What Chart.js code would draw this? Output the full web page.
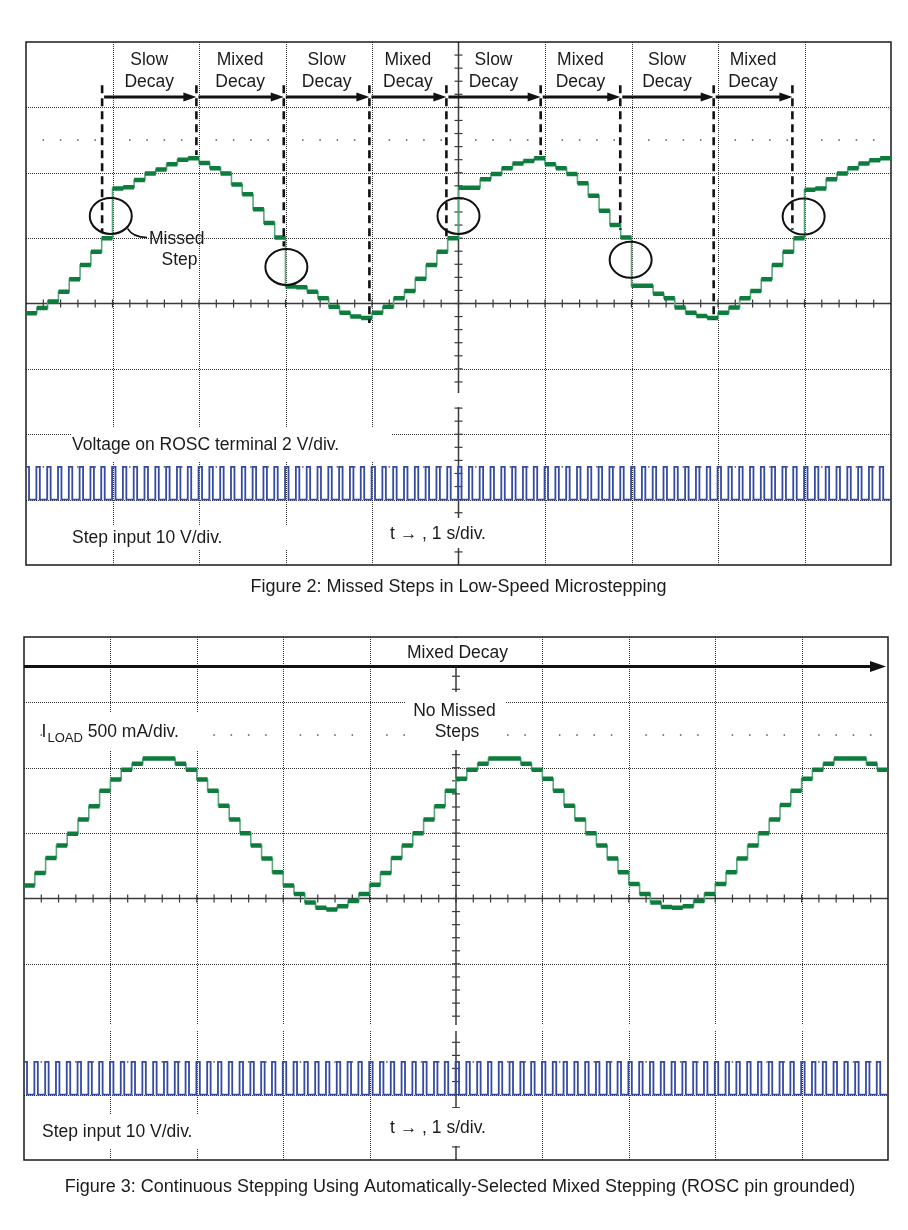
<!DOCTYPE html>
<html>
<head>
<meta charset="utf-8">
<script src="https://cdn.jsdelivr.net/npm/chart.js@4.4.1/dist/chart.umd.min.js"></script>
<style>
  html, body { margin: 0; padding: 0; background: #fff; }
  #wrap { position: relative; width: 908px; height: 1230px; }
  canvas { position: absolute; left: 0; }
  #fig2 { top: 0; }
  #fig3 { top: 600px; }
</style>
</head>
<body>
<div id="wrap">
  <canvas id="fig2" width="908" height="600"></canvas>
  <canvas id="fig3" width="908" height="630"></canvas>
</div>
<script>
const stepPeriod = 0.125;   // 8 microsteps per division
const stepHigh = -2.5;      // step input trace, high level
const stepLow = -3.0;       // step input trace, low level
const pulseOffset = -0.005; // pulse rise relative to the current step
const pulseWidth = 0.04;    // high time of a step pulse

// Figure 2: load current, one level per microstep (80 steps over 10 s)
const fig2Current = [
  -0.15, -0.07, 0.03, 0.18, 0.37, 0.59, 0.79, 1.00,
  1.76, 1.78, 1.89, 1.99, 2.05, 2.13, 2.20, 2.22,
  2.15, 2.07, 1.99, 1.82, 1.67, 1.44, 1.23, 1.01,
  0.26, 0.25, 0.18, 0.08, -0.05, -0.14, -0.20, -0.22,
  -0.14, -0.05, 0.08, 0.19, 0.38, 0.59, 0.79, 1.00,
  1.77, 1.77, 1.90, 1.98, 2.07, 2.14, 2.18, 2.22,
  2.13, 2.07, 1.98, 1.84, 1.65, 1.42, 1.20, 1.01,
  0.27, 0.27, 0.15, 0.08, -0.06, -0.14, -0.19, -0.22,
  -0.14, -0.06, 0.08, 0.19, 0.37, 0.59, 0.79, 1.00,
  1.74, 1.76, 1.90, 1.99, 2.07, 2.14, 2.19, 2.22
];

// Figure 3: load current with mixed decay all the time
const fig3Current = [
  0.20, 0.39, 0.62, 0.81, 0.99, 1.21, 1.41, 1.65,
  1.82, 1.97, 2.06, 2.14, 2.14, 2.14, 2.06, 1.97,
  1.82, 1.65, 1.42, 1.21, 1.00, 0.81, 0.61, 0.40,
  0.20, 0.07, -0.06, -0.14, -0.17, -0.12, -0.04, 0.07,
  0.21, 0.39, 0.62, 0.81, 1.00, 1.21, 1.41, 1.65,
  1.83, 1.97, 2.06, 2.14, 2.14, 2.14, 2.06, 1.97,
  1.83, 1.65, 1.42, 1.21, 1.00, 0.81, 0.61, 0.40,
  0.22, 0.07, -0.06, -0.13, -0.14, -0.12, -0.04, 0.07,
  0.22, 0.40, 0.61, 0.81, 1.00, 1.21, 1.43, 1.65,
  1.83, 1.97, 2.06, 2.14, 2.14, 2.14, 2.06, 1.97
];

// Figure 2 annotations: decay mode boundaries (s) and where each dashed line stops (div)
const decayBounds = [0.88, 1.97, 2.98, 3.97, 4.86, 5.95, 6.87, 7.95, 8.86];
const boundEnds = [1.08, 2.27, 0.87, -0.30, 1.02, 2.27, 1.13, -0.25, 1.13];
const decayModes = ['Slow', 'Mixed', 'Slow', 'Mixed', 'Slow', 'Mixed', 'Slow', 'Mixed'];
const missedT = [0.98, 3.01, 5.00, 6.99, 8.99];
const missedY = [1.34, 0.56, 1.34, 0.67, 1.33];

const FONT = '"Liberation Sans", Arial, sans-serif';
const INK = '#1b1b1b';

// thick flat parts of the staircase (noise band)
function flats(levels) {
  const pts = [];
  levels.forEach((v, k) => {
    pts.push({x: k * stepPeriod, y: v}, {x: (k + 1) * stepPeriod, y: v}, {x: (k + 1) * stepPeriod, y: null});
  });
  return pts;
}

// thin stepped trace that also gives the risers
function risers(levels) {
  const pts = levels.map((v, k) => ({x: k * stepPeriod, y: v}));
  pts.push({x: levels.length * stepPeriod, y: levels[levels.length - 1]});
  return pts;
}

// step input pulse train, one pulse per microstep
function pulses(levels) {
  const pts = [];
  levels.forEach((v, k) => {
    const t = k * stepPeriod + pulseOffset;
    pts.push({x: t, y: stepHigh}, {x: t + pulseWidth, y: stepLow});
  });
  pts.push({x: 10, y: stepLow});
  return pts;
}

// index 0 is painted last (on top)
function traceSets(levels) {
  return [
    {data: flats(levels), spanGaps: false, borderColor: '#0e7c3d', borderWidth: 4.5, borderCapStyle: 'butt'},
    {data: risers(levels), stepped: 'before', borderColor: '#5aa97c', borderWidth: 1.6},
    {data: pulses(levels), stepped: 'before', borderColor: '#354ba2', borderWidth: 1.8}
  ];
}

function seg(ctx, x1, y1, x2, y2) {
  ctx.beginPath(); ctx.moveTo(x1, y1); ctx.lineTo(x2, y2); ctx.stroke();
}

// graticule: dotted divisions, solid centre axes with 0.2 div ticks, label masks, frame
function drawScreen(chart, masks, dy) {
  const {ctx, chartArea: a} = chart;
  const sx = chart.scales.x, sy = chart.scales.y;
  ctx.save();
  ctx.strokeStyle = 'rgba(0,0,0,0.8)';
  ctx.lineWidth = 1;
  ctx.setLineDash([1, 1]);
  sx.ticks.forEach(t => {
    if (t.value === 0 || t.value === 10 || t.value === 5) return;
    const px = Math.round(sx.getPixelForValue(t.value)) + 0.5;
    seg(ctx, px, a.top, px, a.bottom);
  });
  sy.ticks.forEach(t => {
    if (t.value === -4 || t.value === 4 || t.value === 0) return;
    const py = Math.round(sy.getPixelForValue(t.value)) + 0.5;
    seg(ctx, a.left, py, a.right, py);
  });
  ctx.setLineDash([]);
  ctx.fillStyle = '#555';
  [2.5, -2.5].forEach(row => {
    const py = sy.getPixelForValue(row);
    for (let i = 1; i < 50; i++) {
      if (i % 5 === 0) continue;
      ctx.fillRect(sx.getPixelForValue(i * 0.2) - 0.75, py - 0.75, 1.5, 1.5);
    }
  });
  const cx = sx.getPixelForValue(5), cy = sy.getPixelForValue(0);
  ctx.strokeStyle = '#3a3a3a';
  ctx.lineWidth = 1.5;
  seg(ctx, a.left, cy, a.right, cy);
  seg(ctx, cx, a.top, cx, a.bottom);
  ctx.lineWidth = 1.2;
  for (let i = 1; i < 50; i++) {
    const px = sx.getPixelForValue(i * 0.2);
    seg(ctx, px, cy - 4, px, cy + 4);
  }
  for (let j = -19; j < 20; j++) {
    const py = sy.getPixelForValue(j * 0.2);
    seg(ctx, cx - 4, py, cx + 4, py);
  }
  ctx.fillStyle = '#fff';
  masks.forEach(m => ctx.fillRect(m[0], m[1] - dy, m[2], m[3]));
  ctx.strokeStyle = '#1a1a1a';
  ctx.lineWidth = 1.5;
  ctx.strokeRect(a.left, a.top, a.right - a.left, a.bottom - a.top);
  ctx.restore();
}

function arrowRight(ctx, x1, x2, y, len, half) {
  ctx.lineWidth = 3;
  seg(ctx, x1, y, x2 - len + 2, y);
  ctx.beginPath();
  ctx.moveTo(x2, y); ctx.lineTo(x2 - len, y - half); ctx.lineTo(x2 - len, y + half);
  ctx.closePath(); ctx.fill();
}

function text(ctx, s, x, y, size, align) {
  ctx.font = size + 'px ' + FONT;
  ctx.textAlign = align || 'left';
  ctx.textBaseline = 'alphabetic';
  ctx.fillText(s, x, y);
}

const fig2Masks = [[72, 428, 320, 34], [450, 393, 16, 14], [70, 525, 232, 25], [385, 518, 125, 30]];

const fig2Plugin = {
  id: 'fig2Screen',
  beforeDatasetsDraw(chart) { drawScreen(chart, fig2Masks, 0); },
  afterDatasetsDraw(chart) {
    const {ctx} = chart;
    const sx = chart.scales.x, sy = chart.scales.y;
    ctx.save();
    ctx.strokeStyle = '#111';
    ctx.fillStyle = '#111';
    const top = sy.getPixelForValue(3.34), ay = sy.getPixelForValue(3.16);
    const bx = decayBounds.map(t => sx.getPixelForValue(t));
    // dashed mode boundaries
    ctx.lineWidth = 2.6;
    ctx.setLineDash([8, 5]);
    bx.forEach((px, i) => seg(ctx, px, top, px, sy.getPixelForValue(boundEnds[i])));
    ctx.setLineDash([]);
    // arrows + labels
    for (let i = 0; i < decayModes.length; i++) {
      ctx.fillStyle = '#111';
      arrowRight(ctx, bx[i] + 2, bx[i + 1], ay, 13, 4.5);
      ctx.fillStyle = INK;
      const mid = (bx[i] + bx[i + 1]) / 2;
      text(ctx, decayModes[i], mid, 64.5, 17.5, 'center');
      text(ctx, 'Decay', mid, 86.5, 17.5, 'center');
    }
    // missed step circles
    ctx.lineWidth = 2;
    missedT.forEach((t, i) => {
      ctx.beginPath();
      ctx.ellipse(sx.getPixelForValue(t), sy.getPixelForValue(missedY[i]), 21, 18, 0, 0, Math.PI * 2);
      ctx.stroke();
    });
    ctx.lineWidth = 1.5;
    ctx.beginPath();
    ctx.moveTo(127.5, 228.5);
    ctx.quadraticCurveTo(133, 237.5, 147, 237.5);
    ctx.stroke();
    ctx.fillStyle = INK;
    text(ctx, 'Missed', 149, 243.5, 17.5);
    text(ctx, 'Step', 161.5, 265, 17.5);
    text(ctx, 'Voltage on ROSC terminal 2 V/div.', 72, 450, 17.5);
    text(ctx, 'Step input 10 V/div.', 72, 543, 17.5);
    text(ctx, 't \u2192 , 1 s/div.', 390, 539, 17.5);
    text(ctx, 'Figure 2: Missed Steps in Low-Speed Microstepping', 458.5, 592, 18, 'center');
    ctx.restore();
  }
};

const fig3Masks = [[400, 638, 115, 27], [405, 692, 100, 58], [44, 712, 165, 38], [24, 1025, 864, 6],
  [40, 1114, 162, 34], [385, 1108, 125, 38]];

const fig3Plugin = {
  id: 'fig3Screen',
  beforeDatasetsDraw(chart) { drawScreen(chart, fig3Masks, 600); },
  afterDatasetsDraw(chart) {
    const {ctx, chartArea: a} = chart;
    const sy = chart.scales.y;
    ctx.save();
    ctx.strokeStyle = '#111';
    ctx.fillStyle = '#111';
    arrowRight(ctx, a.left, a.right - 2, sy.getPixelForValue(3.55), 16, 5.5);
    ctx.fillStyle = INK;
    text(ctx, 'Mixed Decay', 457.5, 58, 17.5, 'center');
    text(ctx, 'No Missed', 454.5, 116, 17.5, 'center');
    text(ctx, 'Steps', 457, 137, 17.5, 'center');
    text(ctx, 'I', 41.5, 137, 17.5);
    text(ctx, 'LOAD', 47.5, 142, 13);
    ctx.font = '13px ' + FONT;
    const w = ctx.measureText('LOAD').width;
    text(ctx, ' 500 mA/div.', 47.5 + w, 137, 17.5);
    text(ctx, 'Step input 10 V/div.', 42, 536.5, 17.5);
    text(ctx, 't \u2192 , 1 s/div.', 390, 533, 17.5);
    text(ctx, 'Figure 3: Continuous Stepping Using Automatically-Selected Mixed Stepping (ROSC pin grounded)', 460, 592, 18, 'center');
    ctx.restore();
  }
};

function scopeChart(id, pad, levels, plugin) {
  return new Chart(document.getElementById(id), {
    type: 'line',
    data: {datasets: traceSets(levels)},
    options: {
      responsive: false,
      animation: false,
      events: [],
      layout: {padding: pad},
      elements: {point: {radius: 0}, line: {tension: 0}},
      plugins: {legend: {display: false}, tooltip: {enabled: false}},
      scales: {
        x: {type: 'linear', min: 0, max: 10, ticks: {stepSize: 1}, display: false},
        y: {type: 'linear', min: -4, max: 4, ticks: {stepSize: 1}, display: false}
      }
    },
    plugins: [plugin]
  });
}

scopeChart('fig2', {left: 26, top: 42, right: 17, bottom: 35}, fig2Current, fig2Plugin);
scopeChart('fig3', {left: 24, top: 37, right: 20, bottom: 70}, fig3Current, fig3Plugin);
</script>
</body>
</html>
